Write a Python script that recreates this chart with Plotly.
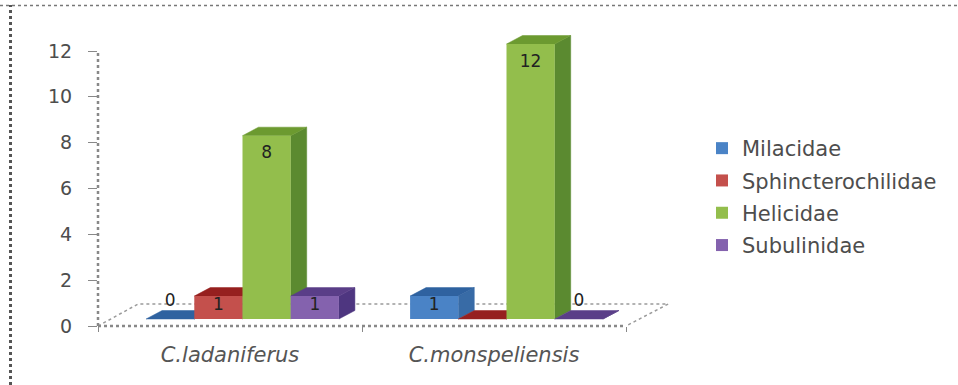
import plotly.graph_objects as go

categories = ["C.ladaniferus", "C.monspeliensis"]
series_names = ["Milacidae", "Sphincterochilidae", "Helicidae", "Subulinidae"]
milacidae = [0, 1]
sphincterochilidae = [1, 0]
helicidae = [8, 12]
subulinidae = [1, 0]
y_ticks = [0, 2, 4, 6, 8, 10, 12]
unlabelled = [(1, 1)]  # series, category: the reference prints no label here

series_values = [milacidae, sphincterochilidae, helicidae, subulinidae]
front_colors = ["#4A83C6", "#C4504C", "#93BE4C", "#8462AE"]
top_colors = ["#2F62A0", "#96201F", "#6C9A30", "#5A3E88"]
side_colors = ["#386BA6", "#8E2F2C", "#5B8A30", "#4E3680"]

W, H = 958, 385
AX_L, AX_R, AX_B, AX_T = 98, 626, 326, 51
PLOT_R, PLOT_T = 690, 20
PX_X = (AX_R - AX_L) / 2
PX_Y = (AX_B - AX_T) / 12
SHIFT_X, SHIFT_Y = 12.5 / PX_X, 7 / PX_Y
BAR_W = 0.1826
DX = 16 / PX_X
DY = 8.5 / PX_Y
GREY = "#888888"
TXT = "#4d4d4d"
FONT = "DejaVu Sans"

x_rng = [-0.5, -0.5 + (PLOT_R - AX_L) / PX_X]
y_rng = [0, (AX_B - PLOT_T) / PX_Y]

fig = go.Figure()

floor_x = [-0.5, -0.348, 1.66, 1.5]
floor_y = [0, 0.96, 0.96, 0]
fig.add_trace(go.Scatter(x=floor_x, y=floor_y, mode="lines", xaxis="x", yaxis="y",
                         line=dict(color="#9a9a9a", width=1.5, dash="dot"),
                         showlegend=False, hoverinfo="skip"))

for i, (name, vals) in enumerate(zip(series_names, series_values)):
    offs = (i - 2) * BAR_W
    side_x, side_y, top_x, top_y = [], [], [], []
    for c, v in enumerate(vals):
        xl = c + offs
        xr = xl + BAR_W
        side_x += [xr, xr + DX, xr + DX, xr, xr, None]
        side_y += [0, DY, v + DY, v, 0, None]
        top_x += [xl, xl + DX, xr + DX, xr, xl, None]
        top_y += [v, v + DY, v + DY, v, v, None]
    fig.add_trace(go.Scatter(x=side_x, y=side_y, xaxis="x2", yaxis="y2", mode="lines",
                             fill="toself", fillcolor=side_colors[i],
                             line=dict(color=side_colors[i], width=0.5),
                             showlegend=False, hoverinfo="skip", zorder=2 * i))
    fig.add_trace(go.Scatter(x=top_x, y=top_y, xaxis="x2", yaxis="y2", mode="lines",
                             fill="toself", fillcolor=top_colors[i],
                             line=dict(color=top_colors[i], width=0.5),
                             showlegend=False, hoverinfo="skip", zorder=2 * i))
    fig.add_trace(go.Bar(x=list(range(len(categories))), y=vals, name=name,
                         xaxis="x2", yaxis="y2", width=BAR_W, offset=offs,
                         marker=dict(color=front_colors[i], line=dict(width=0)),
                         legendgroup=name, zorder=2 * i + 1))
    label_y = [v + 0.74 if v == 0 else (v - 0.43 if v == 1 else v - 0.81) for v in vals]
    label_txt = ["" if (i, c) in unlabelled else str(v) for c, v in enumerate(vals)]
    fig.add_trace(go.Scatter(x=[c + offs + BAR_W / 2 for c in range(len(vals))], y=label_y,
                             xaxis="x2", yaxis="y2", mode="text", text=label_txt,
                             textfont=dict(family=FONT, size=17, color="#222222"),
                             showlegend=False, hoverinfo="skip", zorder=50))

fig.update_layout(
    width=W, height=H, margin=dict(l=0, r=0, t=0, b=0),
    paper_bgcolor="white", plot_bgcolor="rgba(0,0,0,0)",
    barmode="overlay", font=dict(family=FONT, color=TXT),
    xaxis=dict(domain=[AX_L / W, PLOT_R / W], range=x_rng, anchor="y", automargin=False,
               showgrid=False, zeroline=False, showline=False,
               tickmode="array", tickvals=[0, 1], ticktext=categories, ticks="",
               tickfont=dict(family=FONT, size=21, color="#555555", style="italic"),
               ticklabelstandoff=14,
               minor=dict(tickmode="array", tickvals=[-0.5, 0.5, 1.5], ticks="outside",
                          ticklen=5, tickcolor=GREY, tickwidth=1)),
    yaxis=dict(domain=[(H - AX_B) / H, (H - PLOT_T) / H], range=y_rng, anchor="x", automargin=False,
               showgrid=False, zeroline=False, showline=False,
               tickmode="array", tickvals=y_ticks, ticks="outside", ticklen=9,
               tickcolor=GREY, tickwidth=1,
               tickfont=dict(family=FONT, size=19, color=TXT), ticklabelstandoff=12),
    xaxis2=dict(range=[x_rng[0] - SHIFT_X, x_rng[1] - SHIFT_X], overlaying="x", anchor="y2",
                visible=False, automargin=False),
    yaxis2=dict(range=[y_rng[0] - SHIFT_Y, y_rng[1] - SHIFT_Y], overlaying="y", anchor="x2",
                visible=False, automargin=False),
    legend=dict(x=702 / W, xanchor="left", y=1 - 128 / H, yanchor="top",
                bgcolor="rgba(0,0,0,0)", font=dict(family=FONT, size=21, color=TXT),
                tracegroupgap=2, traceorder="grouped", itemclick=False, itemdoubleclick=False),
    shapes=[
        dict(type="line", xref="paper", yref="paper", x0=0, x1=1, y0=1 - 5.5 / H, y1=1 - 5.5 / H,
             line=dict(color="#777777", width=1.5, dash="dot")),
        dict(type="line", xref="paper", yref="paper", x0=10.5 / W, x1=10.5 / W, y0=0, y1=1 - 5 / H,
             line=dict(color="#555555", width=3, dash="dot")),
        dict(type="line", xref="paper", yref="paper", x0=AX_L / W, x1=AX_L / W,
             y0=1 - AX_B / H, y1=1 - AX_T / H, line=dict(color=GREY, width=2.5, dash="dot")),
        dict(type="line", xref="paper", yref="paper", x0=AX_L / W, x1=AX_R / W,
             y0=1 - AX_B / H, y1=1 - AX_B / H, line=dict(color=GREY, width=2.5, dash="dot")),
    ],
)

fig.write_html("out.html", post_script="document.body.style.margin='0';",
               config={"displayModeBar": False})
